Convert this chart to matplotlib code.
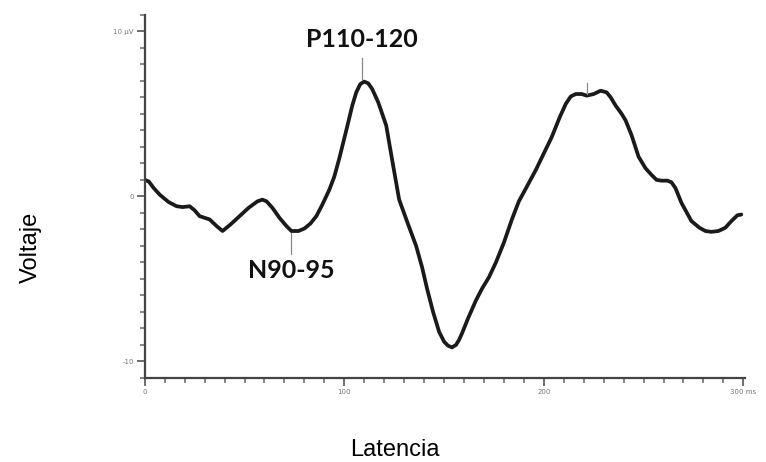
import matplotlib.pyplot as plt
import numpy as np

# latency (ms) and voltage (uV)
latencia = [0, 2, 4.5, 7.5, 12, 16, 19, 22.5, 25, 27.5, 32.5, 36, 39, 43, 47.5, 52,
            56.5, 59, 61, 64, 67.5, 71, 73.5, 77, 80, 83, 86, 89, 92.5, 95, 97.5, 101,
            104, 106, 108, 110, 112, 114, 117, 121, 124, 127.5, 132, 136, 139, 141.5,
            144.5, 147.5, 150, 152, 154, 156, 157.5, 159, 162, 166, 169, 172.5, 176,
            180, 184, 187.5, 192, 196, 200, 204, 208, 211, 213.5, 216, 219, 221.5,
            225, 228.5, 231.5, 233.5, 236, 239, 241, 244, 247.5, 251, 254, 256.5,
            259, 262, 264, 266, 269, 274, 278, 281, 284, 287.5, 291, 294, 297, 299]
voltaje = [1.0, 0.9, 0.5, 0.1, -0.35, -0.6, -0.65, -0.6, -0.85, -1.2, -1.4, -1.8,
           -2.1, -1.7, -1.2, -0.7, -0.3, -0.2, -0.3, -0.7, -1.3, -1.8, -2.1, -2.1,
           -1.95, -1.65, -1.2, -0.5, 0.4, 1.2, 2.3, 4.0, 5.5, 6.3, 6.8, 6.95, 6.85,
           6.5, 5.7, 4.3, 2.2, -0.2, -1.7, -3.0, -4.3, -5.6, -7.0, -8.2, -8.8, -9.05,
           -9.15, -9.0, -8.7, -8.3, -7.4, -6.3, -5.6, -4.9, -4.0, -2.8, -1.4, -0.3,
           0.7, 1.6, 2.6, 3.6, 4.8, 5.6, 6.05, 6.2, 6.2, 6.1, 6.2, 6.4, 6.3, 6.0,
           5.5, 5.0, 4.6, 3.7, 2.4, 1.7, 1.3, 1.0, 0.95, 0.95, 0.85, 0.5, -0.4, -1.5,
           -1.9, -2.1, -2.15, -2.1, -1.9, -1.5, -1.15, -1.1]

x_ticks = [0, 100, 200, 300]
x_tick_labels = ['0', '100', '200', '300 ms']
y_ticks = [-10, 0, 10]
y_tick_labels = ['-10', '0', '10 \u00b5V']

fig = plt.figure(figsize=(7.66, 4.62), dpi=100)
ax = fig.add_axes([0.189, 0.182, 0.784, 0.786])

ax.plot(latencia, voltaje, color='#1a1a1a', lw=2.7,
        solid_capstyle='round', solid_joinstyle='round')
ax.set_xlim(0, 301)
ax.set_ylim(-11, 11)

for s in ['top', 'right']:
    ax.spines[s].set_visible(False)
for s in ['left', 'bottom']:
    ax.spines[s].set_color('#444444')
    ax.spines[s].set_linewidth(1.6)

ax.set_xticks(x_ticks)
ax.set_xticklabels(x_tick_labels)
ax.set_yticks(y_ticks)
ax.set_yticklabels(y_tick_labels)
ax.set_xticks(np.arange(0, 301, 10), minor=True)
ax.set_yticks(np.arange(-11, 12, 1), minor=True)
ax.tick_params(which='major', length=6, width=1.2, color='#555555',
               labelsize=5, labelcolor='#777777', pad=2)
ax.tick_params(which='minor', length=3.5, width=1.1, color='#666666')

# peak annotations
ax.plot([109, 109], [8.4, 7.1], color='#888888', lw=0.9)
ax.text(109, 9.5, 'P110-120', ha='center', va='center', fontsize=18,
        fontweight='bold', family='Lato', color='#111111')
ax.plot([73.5, 73.5], [-2.2, -3.5], color='#888888', lw=0.9)
ax.text(73.5, -4.5, 'N90-95', ha='center', va='center', fontsize=18,
        fontweight='bold', family='Lato', color='#111111')
ax.plot([221.5, 221.5], [6.85, 6.2], color='#888888', lw=0.9)

fig.text(0.04, 0.465, 'Voltaje', rotation=90, ha='center', va='center',
         fontsize=17, family='Liberation Sans')
fig.text(0.515, 0.027, 'Latencia', ha='center', va='center',
         fontsize=17, family='Liberation Sans')

plt.savefig('out.png', dpi=100)
